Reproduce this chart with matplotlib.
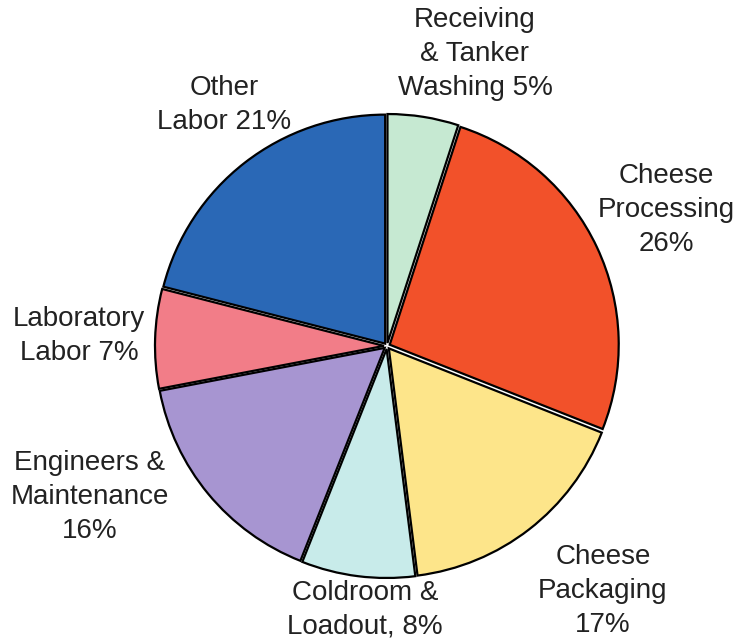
import matplotlib.pyplot as plt

# labor cost breakdown, clockwise from 12 o'clock
etiquetas = ['Receiving\n& Tanker\nWashing 5%', 'Cheese\nProcessing\n26%', 'Cheese\nPackaging\n17%',
             'Coldroom &\nLoadout, 8%', 'Engineers &\nMaintenance\n16%', 'Laboratory\nLabor 7%',
             'Other\nLabor 21%']
porcentajes = [5, 26, 17, 8, 16, 7, 21]
colores = ['#c6e9d2', '#f2512a', '#fde58a', '#c8ebea', '#a795d1', '#f27d88', '#2a68b6']

# label anchor points (in figure pixels, y measured from the top)
pos_x = [475, 666, 603, 365, 90, 79, 224]
pos_y = [54, 210, 591, 610, 497, 336, 105]

W, H = 740, 641
fig = plt.figure(figsize=(W / 100, H / 100), dpi=100)
ax = fig.add_axes([0, 0, 1, 1])

centro = (387, H - 346)
radio = 229
ax.pie(porcentajes, colors=colores, startangle=90, counterclock=False,
       center=centro, radius=radio, explode=[3] * len(porcentajes), frame=True,
       wedgeprops=dict(edgecolor='black', linewidth=1.6))
ax.set_xlim(0, W)
ax.set_ylim(0, H)
ax.set_aspect('equal')
ax.axis('off')

for txt, x, y in zip(etiquetas, pos_x, pos_y):
    ax.text(x, H - y, txt, ha='center', va='center', fontsize=20,
            family='Liberation Sans', color='#222222', linespacing=1.38)

plt.savefig('out.png', dpi=100)
